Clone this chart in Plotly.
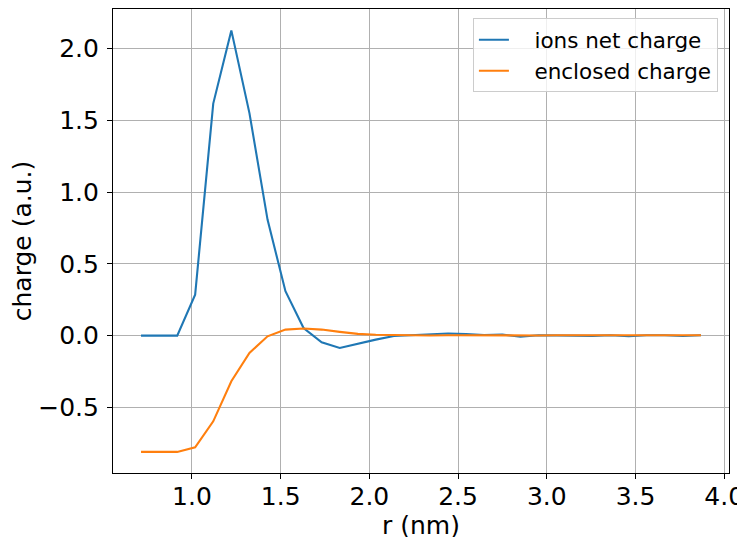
import plotly.graph_objects as go

r_nm = [0.713, 0.815, 0.917, 1.018, 1.120, 1.222, 1.324, 1.426, 1.527, 1.629,
        1.731, 1.833, 1.935, 2.036, 2.138, 2.240, 2.342, 2.444, 2.545, 2.647,
        2.749, 2.851, 2.953, 3.054, 3.156, 3.258, 3.360, 3.462, 3.563, 3.665,
        3.767, 3.869]

ions_net_charge = [0.0, 0.0, 0.0, 0.285, 1.616, 2.126, 1.55, 0.808, 0.309, 0.053,
                   -0.047, -0.086, -0.055, -0.028, -0.003, 0.004, 0.006, 0.015, 0.010, 0.004,
                   0.008, -0.008, 0.003, 0.002, 0.004, -0.002, 0.003, -0.004, 0.002, 0.003,
                   -0.003, 0.002]

enclosed_charge = [-0.81, -0.81, -0.81, -0.778, -0.597, -0.318, -0.121, -0.005, 0.042, 0.049,
                   0.042, 0.026, 0.012, 0.006, 0.003, 0.002, 0.001, 0.002, 0.001, 0.004,
                   0.002, 0.002, 0.001, 0.002, 0.002, 0.003, 0.002, 0.001, 0.002, 0.002,
                   0.001, 0.002]

x_ticks = [1.0, 1.5, 2.0, 2.5, 3.0, 3.5, 4.0]
y_ticks = [-0.5, 0.0, 0.5, 1.0, 1.5, 2.0]
series_names = ["ions net charge", "enclosed charge"]

font = "DejaVu Sans"
fs = 25
legend_fs = 21.5
gap = "\u00a0\u00a0\u00a0"

fig = go.Figure()
fig.add_trace(go.Scatter(x=r_nm, y=ions_net_charge, mode="lines", name=gap + series_names[0],
                         line=dict(color="#1f77b4", width=2.1)))
fig.add_trace(go.Scatter(x=r_nm, y=enclosed_charge, mode="lines", name=gap + series_names[1],
                         line=dict(color="#ff7f0e", width=2.1)))

axis_common = dict(showline=True, linecolor="black", linewidth=1.1, mirror=True,
                   ticks="outside", ticklen=5, tickwidth=1.1, tickcolor="black",
                   showgrid=True, gridcolor="#b0b0b0", gridwidth=1.1,
                   zeroline=False, automargin=False,
                   tickfont=dict(family=font, size=fs, color="black"))

fig.update_xaxes(range=[0.555, 4.027], tickvals=x_ticks, tickformat=".1f",
                 ticklabelstandoff=-4,
                 title=dict(text="r (nm)", font=dict(family=font, size=fs, color="black"), standoff=4),
                 **axis_common)
fig.update_yaxes(range=[-0.957, 2.275], tickvals=y_ticks, tickformat=".1f",
                 ticklabelstandoff=3,
                 title=dict(text="charge (a.u.)", font=dict(family=font, size=fs, color="black"), standoff=8),
                 **axis_common)

fig.update_layout(
    width=745, height=537,
    margin=dict(l=105, r=24, t=1, b=72),
    paper_bgcolor="white", plot_bgcolor="white",
    font=dict(family=font, size=fs, color="black"),
    showlegend=True,
    legend=dict(x=0.982, y=0.98, xanchor="right", yanchor="top",
                bgcolor="rgba(255,255,255,0.8)", bordercolor="#cccccc", borderwidth=1,
                font=dict(family=font, size=legend_fs, color="black"),
                tracegroupgap=0, itemwidth=30),
)

fig.write_html("out.html")
